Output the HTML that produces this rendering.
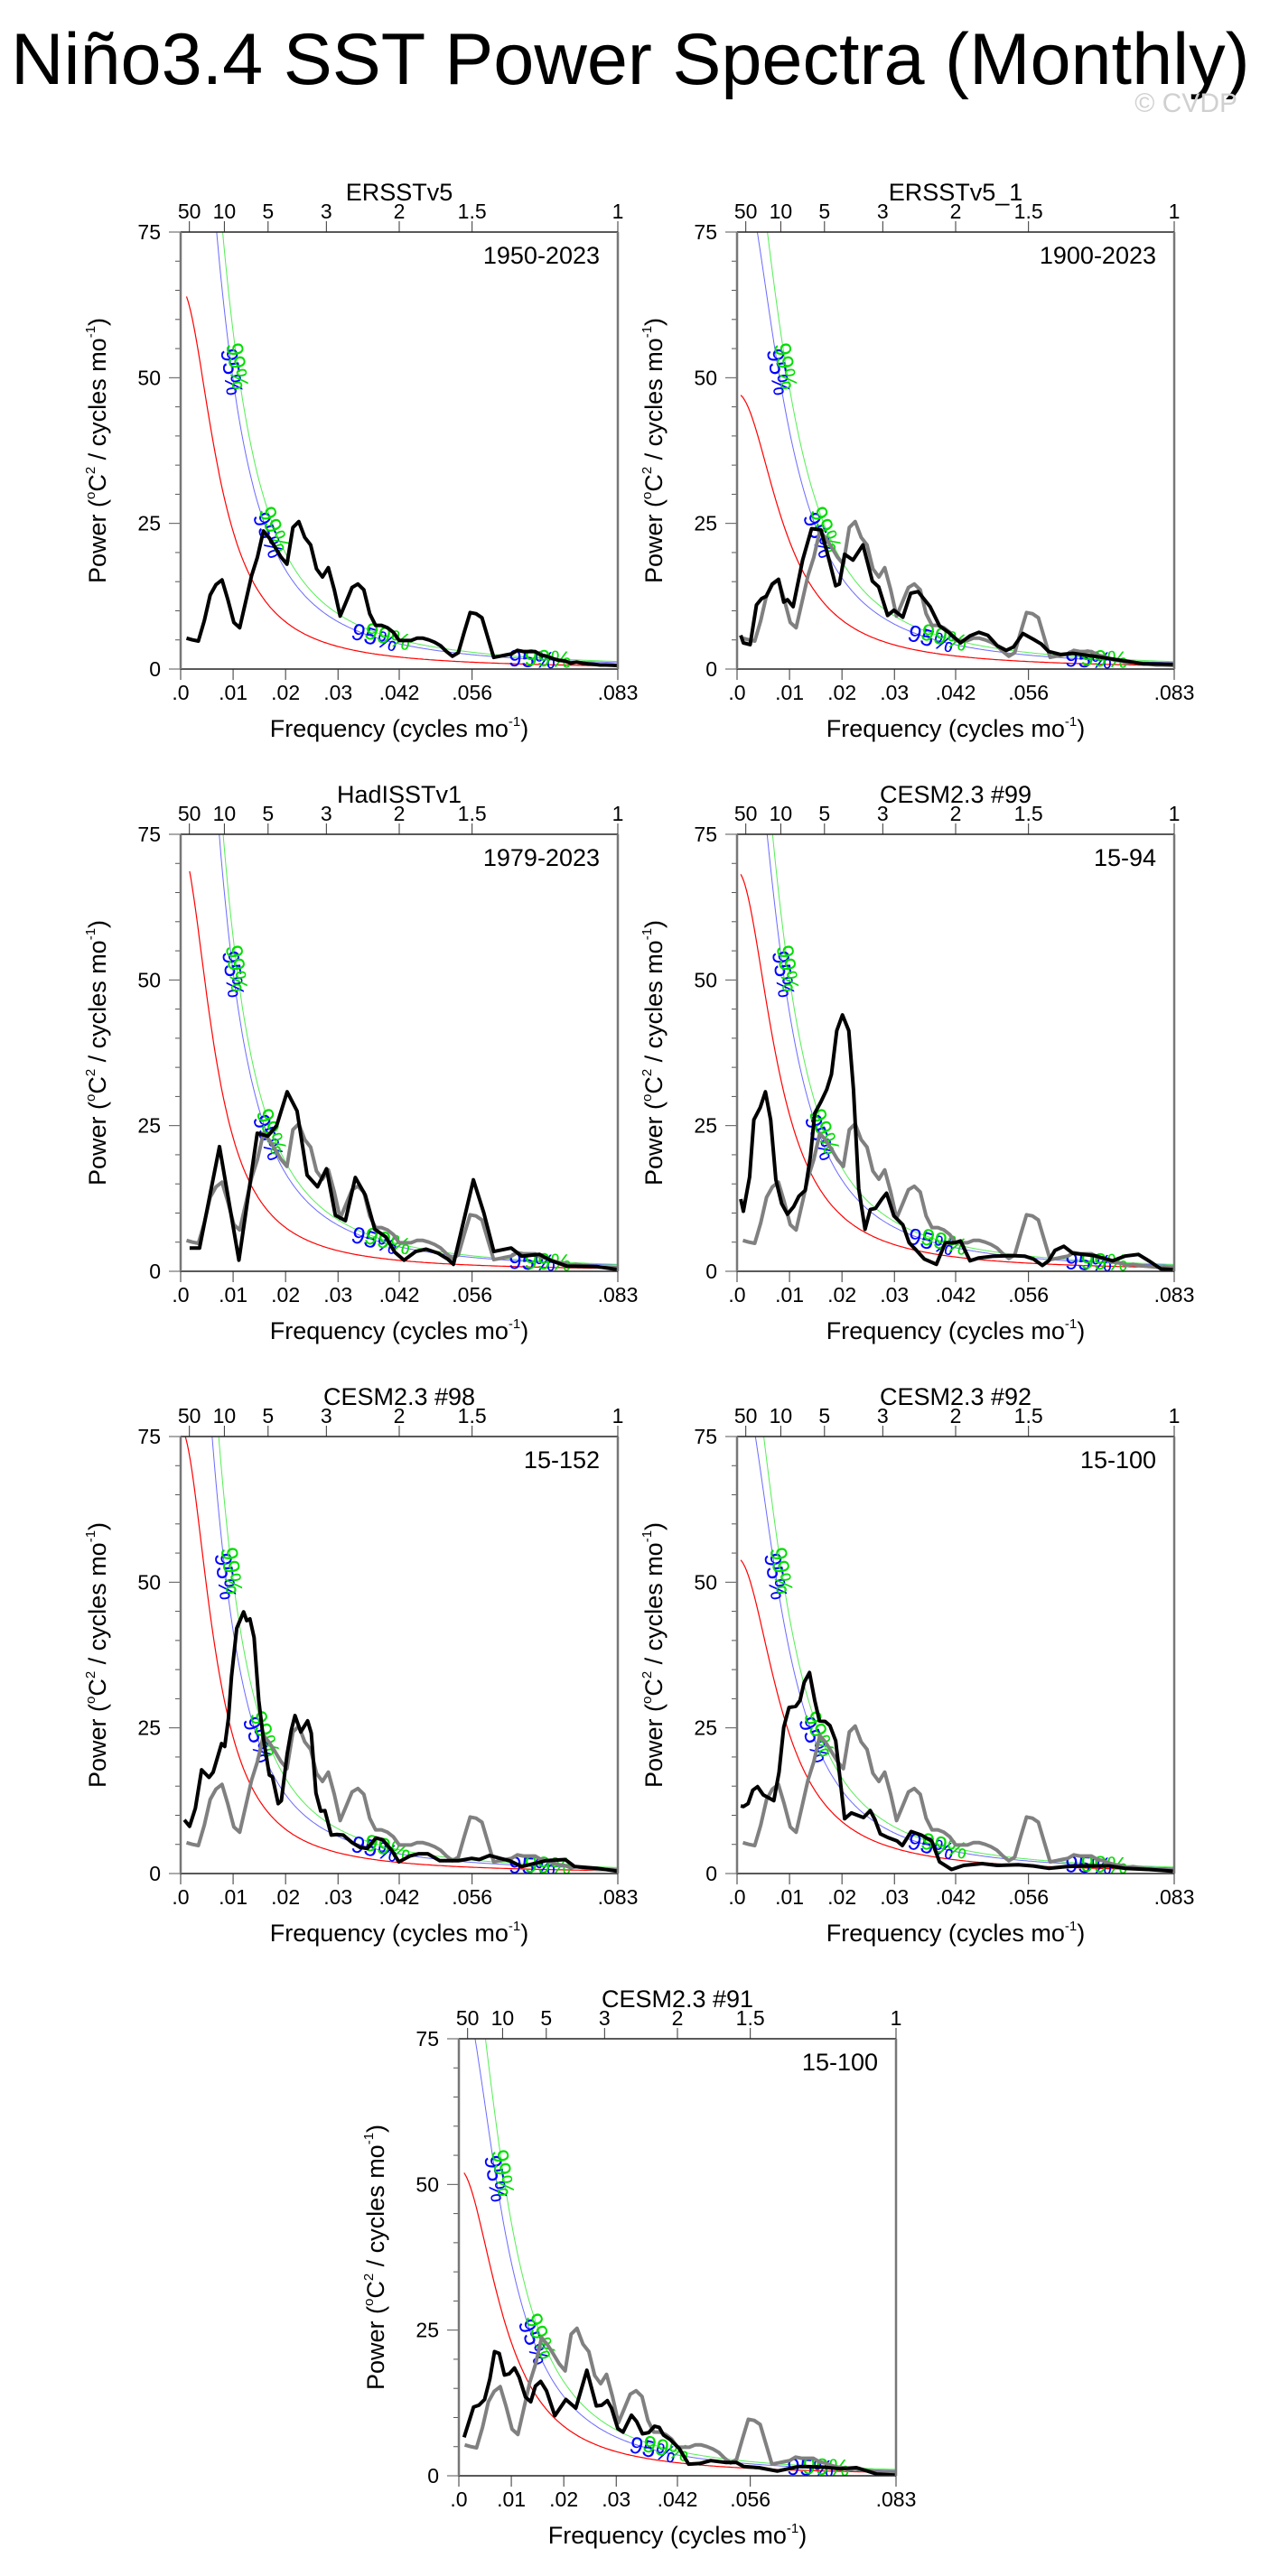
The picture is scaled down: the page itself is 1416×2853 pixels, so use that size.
<!DOCTYPE html>
<html><head><meta charset="utf-8">
<style>
html,body{margin:0;padding:0;background:#fff;}
svg{display:block;font-family:"Liberation Sans",Arial,sans-serif;}
</style></head>
<body>
<svg id="root" width="1416" height="2853" viewBox="0 0 1416 2853" xmlns="http://www.w3.org/2000/svg">
<text x="12" y="93" font-size="81" fill="#000">Niño3.4 SST Power Spectra (Monthly)</text>
<text x="1370" y="124" font-size="30" fill="#d0d0d0" text-anchor="end">© CVDP</text>
<g id="panels"></g>
</svg>
<script>
// ---- reference (ERSSTv5 1950-2023), f = i/888
const refPower=[5.3,5.0,4.8,8.3,12.7,14.5,15.3,11.9,8.0,7.1,11.5,16.0,19.2,23.7,22.5,20.9,19.2,18.0,24.3,25.3,22.6,21.3,17.2,15.8,17.4,13.6,9.1,11.5,14.0,14.6,13.6,9.5,7.5,7.5,7.1,6.3,4.9,4.9,4.9,5.3,5.3,5.0,4.6,4.0,3.0,2.2,2.8,6.3,9.7,9.5,8.8,5.4,2.0,2.2,2.4,2.6,3.2,3.0,3.0,3.0,2.4,2.2,1.8,1.5,1.4,1.0,1.2,1.0,0.9,0.8,0.7,0.7,0.65,0.6];
const refFreq=refPower.map((v,i)=>(i+1)/888);

const p2Freq=[0.0007,0.0012,0.0025,0.0037,0.0047,0.0056,0.0067,0.0079,0.0089,0.0096,0.0107,0.0125,0.0142,0.0160,0.0174,0.0188,0.0195,0.0205,0.0221,0.0240,0.0258,0.0270,0.0287,0.0299,0.0316,0.0331,0.0345,0.0368,0.0386,0.0403,0.0426,0.0444,0.0461,0.0478,0.0496,0.0513,0.0527,0.0545,0.0565,0.0580,0.0594,0.0617,0.0640,0.0681,0.0739,0.0774,0.0831];
const p2Power=[5.8,4.5,4.2,11,12.1,12.5,14.6,15.4,11.5,11.9,10.7,18.7,24.1,23.9,19.2,14.3,14.6,19.7,18.7,21.3,15.1,14.1,9.2,10.1,8.9,13.0,13.3,10.7,7.4,6.3,4.5,5.7,6.3,5.8,4.0,3.2,3.8,6.1,5.1,4.3,3.0,2.5,2.7,2.2,1.4,0.9,0.8];

const p3Freq=[0.0017,0.0036,0.0074,0.0111,0.0146,0.0166,0.0183,0.0203,0.0222,0.0241,0.0261,0.0278,0.0295,0.0314,0.0333,0.0352,0.0370,0.0391,0.0408,0.0426,0.0448,0.0468,0.0491,0.0509,0.0520,0.0558,0.0578,0.0597,0.0630,0.0650,0.0684,0.0707,0.0736,0.0794,0.0833];
const p3Power=[4.0,4.0,21.4,1.9,23.7,23.2,25.0,30.8,27.5,16.5,14.5,17.6,9.6,8.7,16.1,13.1,7.2,5.9,3.3,1.9,3.4,3.8,3.1,2.1,1.2,15.7,10.0,3.4,4.0,2.6,2.9,1.8,0.9,0.8,0.3];

const p4Freq=[0.0007,0.0012,0.0024,0.0032,0.0044,0.0054,0.0064,0.0074,0.0085,0.0096,0.0108,0.0118,0.0130,0.0140,0.0148,0.0160,0.0171,0.0180,0.0190,0.0201,0.0213,0.0222,0.0232,0.0244,0.0254,0.0264,0.0276,0.0285,0.0299,0.0316,0.0328,0.0342,0.0357,0.0380,0.0397,0.0415,0.0426,0.0444,0.0461,0.0490,0.0525,0.0548,0.0565,0.0582,0.0594,0.0606,0.0623,0.0640,0.0681,0.0716,0.0739,0.0765,0.0785,0.0808,0.0831];
const p4Power=[12.4,10.3,16.2,26.0,28.1,30.8,26.0,15.7,11.6,9.8,11.1,12.9,13.9,19.8,27.1,29.1,31.2,33.8,41.3,44.0,41.3,31.2,14.2,7.2,10.6,10.8,12.4,13.4,9.5,8.0,4.9,3.6,2.1,1.2,4.9,4.9,5.2,1.8,2.3,2.6,2.7,2.6,2.1,1.0,1.8,3.6,4.3,3.1,2.7,1.8,2.6,2.9,1.8,0.4,0.3];

const p5Freq=[0.0007,0.0017,0.0028,0.0040,0.0054,0.0062,0.0078,0.0084,0.0091,0.0097,0.0107,0.0120,0.0126,0.0132,0.0140,0.0149,0.0157,0.0169,0.0175,0.0186,0.0192,0.0203,0.0211,0.0218,0.0229,0.0242,0.0249,0.0258,0.0267,0.0275,0.0287,0.0298,0.0310,0.0327,0.0342,0.0356,0.0372,0.0385,0.0402,0.0416,0.0437,0.0454,0.0471,0.0494,0.0529,0.0555,0.0569,0.0589,0.0609,0.0627,0.0650,0.0696,0.0733,0.0751,0.0794,0.0833];
const p5Power=[9.2,8.1,11.2,17.8,16.5,17.4,22.3,21.8,26.6,33.8,42.1,44.9,43.4,43.7,40.5,29.7,23.6,16.9,16.6,12.0,12.5,20.5,24.6,27.1,24.3,26.2,24.1,13.8,10.7,10.8,6.6,6.7,6.6,5.3,4.5,4.3,6.1,5.8,4.0,2.0,3.0,3.4,3.4,2.2,2.2,2.6,2.4,3.1,2.6,2.2,1.2,2.2,2.4,1.2,0.9,0.4];

const p6Freq=[0.0007,0.0012,0.0021,0.0030,0.0039,0.0050,0.0070,0.0080,0.0089,0.0099,0.0112,0.0120,0.0128,0.0138,0.0148,0.0157,0.0168,0.0177,0.0188,0.0205,0.0218,0.0241,0.0254,0.0263,0.0273,0.0287,0.0305,0.0315,0.0332,0.0351,0.0371,0.0386,0.0409,0.0432,0.0467,0.0496,0.0536,0.0565,0.0594,0.0629,0.0658,0.0710,0.0739,0.0785,0.0831];
const p6Power=[11.6,11.5,12.0,14.3,14.9,13.5,12.5,17.4,25.1,28.5,28.7,29.7,32.8,34.5,29.7,26.2,26.1,25.4,22.8,9.4,10.4,9.6,10.8,9.2,6.8,6.2,5.6,4.8,7.2,6.6,5.6,2.0,0.7,1.4,1.7,1.4,1.5,1.3,0.9,1.2,1.3,1.3,0.9,0.7,0.4];

const p7Freq=[0.0010,0.0028,0.0038,0.0049,0.0059,0.0068,0.0077,0.0087,0.0096,0.0106,0.0115,0.0127,0.0137,0.0146,0.0156,0.0167,0.0183,0.0204,0.0223,0.0244,0.0262,0.0272,0.0283,0.0291,0.0303,0.0313,0.0329,0.0339,0.0350,0.0362,0.0373,0.0382,0.0390,0.0403,0.0420,0.0438,0.0459,0.0480,0.0508,0.0529,0.0543,0.0572,0.0607,0.0649,0.0691,0.0727,0.0758,0.0797,0.0833];
const p7Power=[6.6,11.8,12.1,13.1,16.6,21.3,21.0,17.3,17.5,18.5,16.9,13.5,12.7,15.4,16.2,14.6,10.3,13.1,11.6,18.1,12.0,12.1,12.9,11.6,8.1,7.5,10.4,9.3,7.2,7.4,8.5,8.3,7.0,6.2,4.7,2.0,2.1,2.6,2.3,2.3,1.6,1.4,0.8,1.6,1.5,1.2,1.4,0.3,0.1];

const panelTitles=["ERSSTv5","ERSSTv5_1","HadISSTv1","CESM2.3 #99","CESM2.3 #98","CESM2.3 #92","CESM2.3 #91"];
const panelYears=["1950-2023","1900-2023","1979-2023","15-94","15-152","15-100","15-100"];
const redLowFreq=[0.0011,0.0007,0.0014,0.0024,0.0031,0.0007,0.0010];
const redLowVal=[64,47,70,63,62.7,53.8,52];
const redAt02=[8.1,8.4,7.5,9.5,7.6,8.9,8.5];
const sig95=[2.1,1.86,2.24,1.65,1.78,1.6,1.6];
const sig99=[2.45,2.2,2.5,1.87,2.15,1.84,1.9];
const yTicks=[0,25,50,75];
const xTicks=[0,0.01,0.02,0.03,1/24,1/18,1/12];
const xTickLabels=[".0",".01",".02",".03",".042",".056",".083"];
const periodTicks=[50,10,5,3,2,1.5,1];

const seriesF=[refFreq,p2Freq,p3Freq,p4Freq,p5Freq,p6Freq,p7Freq];
const seriesP=[refPower,p2Power,p3Power,p4Power,p5Power,p6Power,p7Power];
const pos=[[200,257],[816,257],[200,924],[816,924],[200,1591],[816,1591],[508,2258]];
const PW=484,PH=484,FMAX=1/12,YMAX=75;
const NS="http://www.w3.org/2000/svg";
const root=document.getElementById('panels');
function mk(tag,attrs,parent){const e=document.createElementNS(NS,tag);for(const k in attrs)e.setAttribute(k,attrs[k]);(parent||root).appendChild(e);return e;}

pos.forEach((p,pi)=>{
  const X0=p[0],Y0=p[1];
  const xs=f=>X0+f/FMAX*PW;
  const ys=v=>Y0+PH-v/YMAX*PH;
  const g=mk('g',{});
  
  
  const cp=mk('clipPath',{id:'clip'+pi},g);
  mk('rect',{x:X0,y:Y0,width:PW,height:PH},cp);
  const t=mk('text',{x:X0+PW/2,y:Y0-35,'font-size':27,'text-anchor':'middle'},g);
  
  
  t.textContent=panelTitles[pi];
  const yr=mk('text',{x:X0+PW-20,y:Y0+35,'font-size':27,'text-anchor':'end'},g);
  
  
  yr.textContent=panelYears[pi];
  for(let v=0;v<=75;v+=5){
    const major=yTicks.indexOf(v)>=0;
    const tk=mk('line',{x1:X0-(major?13:6),x2:X0,y1:ys(v),y2:ys(v),stroke:'#555','stroke-width':1},g);
    
    
  }
  yTicks.forEach(v=>{
    const l=mk('text',{x:X0-22,y:ys(v)+8,'font-size':23,'text-anchor':'end'},g);
    
    
    l.textContent=String(v);
  });
  xTicks.forEach((f,i)=>{
    const tk=mk('line',{x1:xs(f),x2:xs(f),y1:Y0+PH,y2:Y0+PH+12,stroke:'#333','stroke-width':1},g);
    
    
    const l=mk('text',{x:xs(f),y:Y0+PH+34,'font-size':23,'text-anchor':'middle'},g);
    
    
    l.textContent=xTickLabels[i];
  });
  periodTicks.forEach(yrs=>{
    const f=1/(12*yrs);
    const tk=mk('line',{x1:xs(f),x2:xs(f),y1:Y0,y2:Y0-12,stroke:'#333','stroke-width':1},g);
    
    
    const l=mk('text',{x:xs(f),y:Y0-15,'font-size':23,'text-anchor':'middle'},g);
    
    
    l.textContent=String(yrs);
  });
  const xt=mk('text',{x:X0+PW/2,y:Y0+PH+75,'font-size':27,'text-anchor':'middle'},g);
  
  
  xt.innerHTML='Frequency (cycles mo<tspan font-size="15" dy="-12">-1</tspan><tspan dy="12">)</tspan>';
  const yt=mk('text',{x:0,y:0,'font-size':27,'text-anchor':'middle',transform:`translate(${X0-83},${Y0+PH/2}) rotate(-90)`},g);
  
  
  yt.innerHTML='Power (<tspan font-size="15" dy="-12">o</tspan><tspan dy="12">C</tspan><tspan font-size="15" dy="-12">2</tspan><tspan dy="12"> / cycles mo</tspan><tspan font-size="15" dy="-12">-1</tspan><tspan dy="12">)</tspan>';
  const w=f=>Math.pow(2*Math.PI*f,2);
  const f1=redLowFreq[pi],v1=redLowVal[pi],v2=redAt02[pi];
  const a=(v2*w(0.02)-v1*w(f1))/(v1-v2);
  const C=v1*(a+w(f1));
  const red=f=>C/(a+w(f));
  const fStart=seriesF[pi][0];
  const curve=k=>{let d='';for(let j=0;j<=300;j++){const f=fStart+(FMAX-fStart)*j/300;d+=(j?'L':'M')+xs(f).toFixed(1)+' '+ys(red(f)*k).toFixed(1);}return d;};
  const cg=mk('g',{'clip-path':`url(#clip${pi})`},g);
  const rl=mk('path',{d:curve(1),fill:'none',stroke:'#ff0000','stroke-width':1.2},cg);
  
  
  const bl=mk('path',{d:curve(sig95[pi]),fill:'none',stroke:'#6a6aff','stroke-width':1},cg);
  
  
  const gl=mk('path',{d:curve(sig99[pi]),fill:'none',stroke:'#55ee55','stroke-width':1},cg);
  
  
  const lab=(k,txt,col,fl)=>{
    fl.forEach(f=>{
      const x=xs(f),y=ys(red(f)*k);
      const x2=xs(f+0.0003),y2=ys(red(f+0.0003)*k);
      const ang=Math.atan2(y2-y,x2-x)*180/Math.PI;
      const tx=mk('text',{x:0,y:0,'font-size':26,fill:col,'text-anchor':'middle','dominant-baseline':'central',transform:`translate(${x},${y}) rotate(${ang})`},cg);
      
      
      tx.textContent=txt;
    });
  };
  const fAt=(k,v)=>Math.sqrt(Math.max(C*k/v-a,0))/(2*Math.PI);
  lab(sig95[pi],'95%','#0000ff',[fAt(sig95[pi],51),fAt(sig95[pi],23),0.037,0.067]);
  lab(sig99[pi],'99%','#00dd00',[fAt(sig99[pi],52),fAt(sig99[pi],24),0.0395,0.070]);
  const line=(F,P)=>F.map((f,i)=>(i?'L':'M')+xs(f).toFixed(1)+' '+ys(P[i]).toFixed(1)).join('');
  if(pi>0){
    const gr=mk('path',{d:line(refFreq,refPower),fill:'none',stroke:'#808080','stroke-width':4,'stroke-linejoin':'round'},cg);
    
    
  }
  const bk=mk('path',{d:line(seriesF[pi],seriesP[pi]),fill:'none',stroke:'#000','stroke-width':4,'stroke-linejoin':'round'},cg);
  
  
  const fr=mk('g',{},g);
  
  
  mk('line',{x1:X0,y1:Y0,x2:X0+PW,y2:Y0,stroke:'#222','stroke-width':1.5},fr);
  mk('line',{x1:X0,y1:Y0+PH,x2:X0+PW,y2:Y0+PH,stroke:'#222','stroke-width':1.5},fr);
  mk('line',{x1:X0,y1:Y0,x2:X0,y2:Y0+PH,stroke:'#777','stroke-width':2.5},fr);
  mk('line',{x1:X0+PW,y1:Y0,x2:X0+PW,y2:Y0+PH,stroke:'#777','stroke-width':2.5},fr);
});
</script>
</body></html>
